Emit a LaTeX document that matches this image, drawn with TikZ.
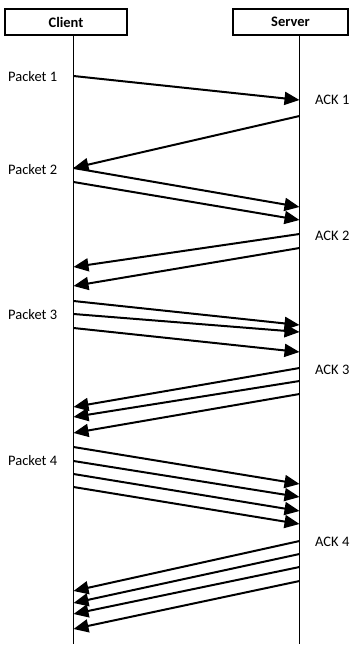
\documentclass[tikz,border=0pt]{standalone}
\usepackage{fontspec}
\setmainfont{Carlito}
\usetikzlibrary{arrows.meta}
\tikzset{
  actor/.style={draw=black, line width=1.3pt, minimum height=26pt, inner sep=0pt,
    font=\fontsize{14.5}{17}\selectfont\bfseries},
  life/.style={draw=black, line width=1.3pt},
  msg/.style={draw=black, line width=2pt, -{Triangle[length=15pt,width=13pt]}, shorten >=0pt},
  lbl/.style={anchor=west, inner sep=0pt, font=\fontsize{14.5}{17}\selectfont}
}
\begin{document}
\begin{tikzpicture}[x=1pt,y=-1pt]
\useasboundingbox (0,0) rectangle (349,645);
\node[actor, minimum width=122pt] (client) at (66,22) {Client};
\node[actor, minimum width=115pt] (server) at (290.5,22) {Server};
\coordinate (cbot) at (73.5,644);
\coordinate (sbot) at (299.5,644);
\draw[life] (client.south -| cbot) -- (cbot);
\draw[life] (server.south -| sbot) -- (sbot);
% client -> server
\foreach \a/\b [count=\i] in {76/100, 168/207, 182/220, 301/325, 314/332, 328/352, 447/484, 461/497, 474/511, 487/524}{
  \coordinate (cs\i a) at (73.5,\a);
  \coordinate (cs\i b) at (299.5,\b);
  \draw[msg] (cs\i a) -- (cs\i b);
}
% server -> client
\foreach \a/\b [count=\i] in {116/168, 234/267, 248/286, 368/407, 381/417, 394/433, 541/591, 554/603, 567/614, 581/629}{
  \coordinate (sc\i a) at (299.5,\a);
  \coordinate (sc\i b) at (73.5,\b);
  \draw[msg] (sc\i a) -- (sc\i b);
}
\node[lbl] (p1) at (8,77) {Packet 1};
\node[lbl] (p2) at (8,170) {Packet 2};
\node[lbl] (p3) at (8,315) {Packet 3};
\node[lbl] (p4) at (8,461) {Packet 4};
\node[lbl] (a1) at (315,100) {ACK 1};
\node[lbl] (a2) at (315,236) {ACK 2};
\node[lbl] (a3) at (315,370) {ACK 3};
\node[lbl] (a4) at (315,542) {ACK 4};
\end{tikzpicture}
\end{document}
